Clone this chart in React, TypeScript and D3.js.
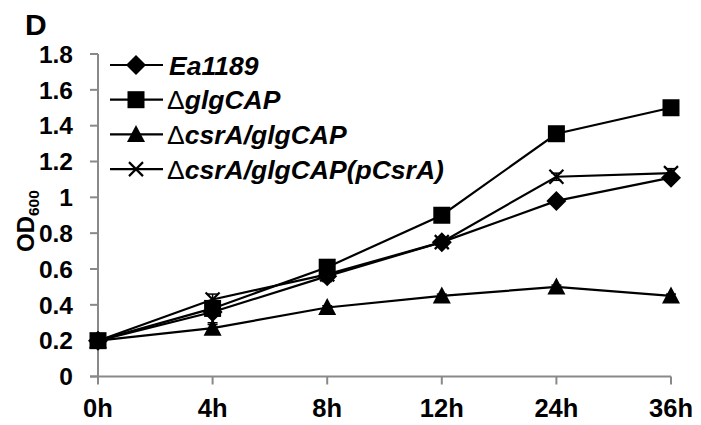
import React from "react";
import * as d3 from "d3";

const categories = ["0h", "4h", "8h", "12h", "24h", "36h"];
const yTicks = [0, 0.2, 0.4, 0.6, 0.8, 1, 1.2, 1.4, 1.6, 1.8];

const ea1189 = [0.2, 0.36, 0.56, 0.75, 0.98, 1.11];
const glgCAP = [0.2, 0.38, 0.61, 0.9, 1.355, 1.5];
const csrAglgCAP = [0.2, 0.27, 0.385, 0.45, 0.5, 0.45];
const pCsrA = [0.2, 0.43, 0.57, 0.75, 1.115, 1.135];

const eaErr = [0, 0.06, 0.03, 0.01, 0.02, 0.015];
const glgErr = [0, 0.02, 0.02, 0.01, 0.01, 0.01];
const csrErr = [0, 0.02, 0.01, 0.01, 0.01, 0.01];
const pErr = [0, 0.03, 0.01, 0.01, 0.02, 0.025];

const seriesDelta = [false, true, true, true];
const seriesNames = ["Ea1189", "glgCAP", "csrA/glgCAP", "csrA/glgCAP(pCsrA)"];
const seriesValues = [ea1189, glgCAP, csrAglgCAP, pCsrA];
const seriesErrors = [eaErr, glgErr, csrErr, pErr];
const seriesMarkers = ["diamond", "square", "triangle", "x"];

const W = 701;
const H = 425;
const left = 98;
const bottom = 376.5;
const top = 54;
const x0 = 98;
const x1 = 671;

function Marker({ kind, cx, cy }: { kind: string; cx: number; cy: number }) {
  if (kind === "diamond") {
    return <path d={`M${cx},${cy - 10}L${cx + 10},${cy}L${cx},${cy + 10}L${cx - 10},${cy}Z`} fill="#000" />;
  }
  if (kind === "square") {
    return <rect x={cx - 8.5} y={cy - 8.5} width={17} height={17} fill="#000" />;
  }
  if (kind === "triangle") {
    return <path d={`M${cx},${cy - 9.5}L${cx + 9},${cy + 7.5}L${cx - 9},${cy + 7.5}Z`} fill="#000" />;
  }
  return (
    <g stroke="#000" strokeWidth={2.2}>
      <line x1={cx - 7} y1={cy - 7} x2={cx + 7} y2={cy + 7} />
      <line x1={cx - 7} y1={cy + 7} x2={cx + 7} y2={cy - 7} />
    </g>
  );
}

export default function App() {
  const x = d3.scalePoint<string>().domain(categories).range([x0, x1]);
  const y = d3.scaleLinear().domain([0, 1.8]).range([bottom, top]);
  const line = d3
    .line<number>()
    .x((_, i) => x(categories[i]) as number)
    .y((d) => y(d));
  const font = "Arial, 'Liberation Sans', sans-serif";

  return (
    <svg width={W} height={H} style={{ position: "absolute", left: 0, top: 0, background: "#fff" }}>
      <rect x={0} y={0} width={W} height={H} fill="#fff" />
      <text x={25} y={35} fontFamily={font} fontWeight="bold" fontSize={30} fill="#000">
        D
      </text>
      {/* y axis */}
      <line x1={left} y1={top} x2={left} y2={bottom} stroke="#898989" strokeWidth={2} />
      {yTicks.map((t) => (
        <g key={t}>
          <line x1={left - 8} x2={left} y1={y(t)} y2={y(t)} stroke="#898989" strokeWidth={2} />
          <text
            x={73}
            y={y(t)}
            dy="0.36em"
            textAnchor="end"
            fontFamily={font}
            fontWeight="bold"
            fontSize={24.5}
            fill="#000"
          >
            {d3.format("~g")(t)}
          </text>
        </g>
      ))}
      {/* x axis */}
      <line x1={left - 8} y1={bottom} x2={x1} y2={bottom} stroke="#898989" strokeWidth={2} />
      {categories.map((c) => (
        <g key={c}>
          <line x1={x(c)} x2={x(c)} y1={bottom} y2={bottom + 8} stroke="#898989" strokeWidth={2} />
          <text
            x={x(c)}
            y={417}
            textAnchor="middle"
            fontFamily={font}
            fontWeight="bold"
            fontSize={25.5}
            fill="#000"
          >
            {c}
          </text>
        </g>
      ))}
      {/* y label */}
      <text
        transform={`translate(34,252) rotate(-90)`}
        textAnchor="start"
        fontFamily={font}
        fontWeight="bold"
        fontSize={24}
        fill="#000"
      >
        OD
        <tspan fontSize={15.5} dy={5}>
          600
        </tspan>
      </text>
      {/* series */}
      {seriesValues.map((vals, si) => (
        <g key={si}>
          <path d={line(vals) || ""} fill="none" stroke="#000" strokeWidth={2.2} />
          {vals.map((v, i) => {
            const e = seriesErrors[si][i];
            const cx = x(categories[i]) as number;
            return e > 0 ? (
              <g key={"e" + i} stroke="#000" strokeWidth={1.5}>
                <line x1={cx} x2={cx} y1={y(v - e)} y2={y(v + e)} />
                <line x1={cx - 5} x2={cx + 5} y1={y(v - e)} y2={y(v - e)} />
                <line x1={cx - 5} x2={cx + 5} y1={y(v + e)} y2={y(v + e)} />
              </g>
            ) : null;
          })}
          {vals.map((v, i) => (
            <Marker key={i} kind={seriesMarkers[si]} cx={x(categories[i]) as number} cy={y(v)} />
          ))}
        </g>
      ))}
      {/* legend */}
      {seriesNames.map((n, i) => {
        const ly = 65 + i * 34.7;
        return (
          <g key={n}>
            <line x1={110} x2={163} y1={ly} y2={ly} stroke="#000" strokeWidth={2.2} />
            <Marker kind={seriesMarkers[i]} cx={136} cy={ly} />
            <text
              x={seriesDelta[i] ? 167 : 169}
              y={ly}
              dy="0.36em"
              fontFamily={font}
              fontWeight="bold"
              fontStyle="italic"
              fontSize={26.5}
              fill="#000"
            >
              {seriesDelta[i] ? (
                <tspan fontStyle="normal" fontWeight="normal">
                  {"\u0394"}
                </tspan>
              ) : null}
              {n}
            </text>
          </g>
        );
      })}
    </svg>
  );
}
